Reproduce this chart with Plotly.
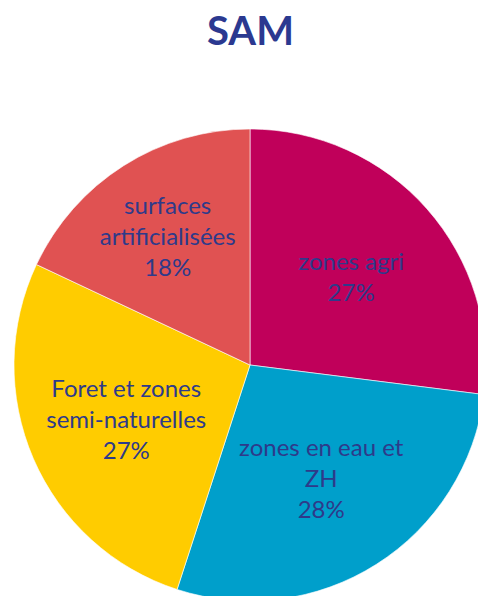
import plotly.graph_objects as go

labels = ["zones agri", "zones en eau et<br>ZH", "Foret et zones<br>semi-naturelles", "surfaces<br>artificialisées"]
values = [27, 28, 27, 18]
colors = ["#C0005A", "#009FCB", "#FFCC00", "#E05252"]
title_text = "SAM"

W, H = 490, 610
cx, cy, r = 250, 365, 236

fig = go.Figure(go.Pie(
    labels=labels,
    values=values,
    sort=False,
    direction="clockwise",
    rotation=0,
    marker=dict(colors=colors, line=dict(color="rgba(255,255,255,0.6)", width=1)),
    texttemplate="%{label}<br>%{percent:.0%}",
    textposition="inside",
    insidetextorientation="horizontal",
    textfont=dict(family="Lato", size=24, color="#2E3A8A"),
    hoverinfo="label+percent",
    showlegend=False,
    domain=dict(x=[(cx - r) / W, (cx + r) / W], y=[1 - (cy + r) / H, 1 - (cy - r) / H]),
))

fig.update_layout(
    width=W, height=H,
    margin=dict(l=0, r=0, t=0, b=0),
    paper_bgcolor="white",
    annotations=[dict(
        text="<b>" + title_text + "</b>", x=250 / W, y=1 - 30 / H, xref="paper", yref="paper",
        showarrow=False, font=dict(family="Lato", size=40, color="#2B3990"),
        xanchor="center", yanchor="middle",
    )],
)

fig.write_html(
    "out.html",
    config={"displayModeBar": False},
    post_script="document.body.style.margin='0';document.body.style.overflow='hidden';",
)
